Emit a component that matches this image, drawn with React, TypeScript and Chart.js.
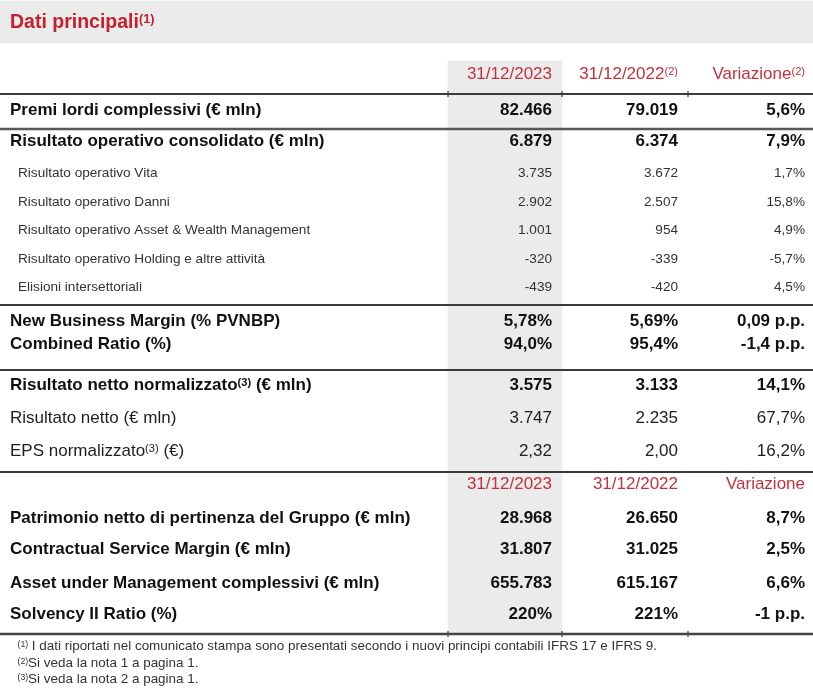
import React, { useEffect, useRef } from "react";
import { Chart, registerables } from "chart.js";

Chart.register(...registerables);

// ---------------- data ----------------
const TITLE = "Dati principali^(1)^";
const HEADER_TOP = ["31/12/2023", "31/12/2022^(2)^", "Variazione^(2)^"];
const HEADER_BOTTOM = ["31/12/2023", "31/12/2022", "Variazione"];

const ROW_LABELS = [
  "Premi lordi complessivi (€ mln)",
  "Risultato operativo consolidato (€ mln)",
  "Risultato operativo Vita",
  "Risultato operativo Danni",
  "Risultato operativo Asset & Wealth Management",
  "Risultato operativo Holding e altre attività",
  "Elisioni intersettoriali",
  "New Business Margin (% PVNBP)",
  "Combined Ratio (%)",
  "Risultato netto normalizzato^(3)^ (€ mln)",
  "Risultato netto (€ mln)",
  "EPS normalizzato^(3)^ (€)",
  "Patrimonio netto di pertinenza del Gruppo (€ mln)",
  "Contractual Service Margin (€ mln)",
  "Asset under Management complessivi (€ mln)",
  "Solvency II Ratio (%)",
];

const VALUES_2023 = [
  "82.466", "6.879", "3.735", "2.902", "1.001", "-320", "-439",
  "5,78%", "94,0%", "3.575", "3.747", "2,32",
  "28.968", "31.807", "655.783", "220%",
];

const VALUES_2022 = [
  "79.019", "6.374", "3.672", "2.507", "954", "-339", "-420",
  "5,69%", "95,4%", "3.133", "2.235", "2,00",
  "26.650", "31.025", "615.167", "221%",
];

const VARIAZIONE = [
  "5,6%", "7,9%", "1,7%", "15,8%", "4,9%", "-5,7%", "4,5%",
  "0,09 p.p.", "-1,4 p.p.", "14,1%", "67,7%", "16,2%",
  "8,7%", "2,5%", "6,6%", "-1 p.p.",
];

const FOOTNOTES = [
  "^(1)^ I dati riportati nel comunicato stampa sono presentati secondo i nuovi principi contabili IFRS 17 e IFRS 9.",
  "^(2)^Si veda la nota 1 a pagina 1.",
  "^(3)^Si veda la nota 2 a pagina 1.",
];

// ---------------- layout & styles ----------------
const W = 813;
const H = 689;
const ROW_Y = [108.5, 140, 172, 201, 229, 258, 286, 320, 343, 384, 417, 450, 517, 548, 582, 613];
const ROW_STYLE = [
  "bold", "bold", "sub", "sub", "sub", "sub", "sub",
  "bold", "bold", "bold", "reg", "reg",
  "bold", "bold", "bold", "bold",
];
const HEADER_Y = [73, 483];
const COL_RIGHT = [552, 678, 805];
const TITLE_POS = { x: 10, y: 21 };
const FOOT_X = 17.5;
const FOOT_Y = [645, 662, 678];
const RULE_Y = [94, 129, 305, 370, 472, 634];
const RULE_W = [2, 2.6, 2, 2, 2, 2.4];
const RULE_C = ["#3a3a3a", "#585858", "#3a3a3a", "#3a3a3a", "#3a3a3a", "#444444"];
const TICK_RULES = [94, 634];
const COL_EDGES = [448, 562, 688];
const HEADER_BAND = { x: W / 2, width: W, y0: 1, y1: 43 };
const HIGHLIGHT_COL = { x: 505, width: 114, y0: 61, y1: 634 };
const FILL = "#ebebeb";
const FONT = '"Liberation Sans", Arial, Helvetica, sans-serif';

type TextStyle = { size: number; weight: string; color: string };
const STYLES: Record<string, TextStyle> = {
  title: { size: 19.5, weight: "bold", color: "#c4202e" },
  header: { size: 17, weight: "normal", color: "#c0333d" },
  bold: { size: 17, weight: "bold", color: "#111111" },
  reg: { size: 17, weight: "normal", color: "#1e1e1e" },
  sub: { size: 13.6, weight: "normal", color: "#333333" },
  foot: { size: 13.45, weight: "normal", color: "#333333" },
};
const LABEL_X: Record<string, number> = { bold: 10, reg: 10, sub: 18 };

function drawRich(
  ctx: CanvasRenderingContext2D,
  text: string,
  x: number,
  y: number,
  align: string,
  st: TextStyle
) {
  const runs = text
    .split("^")
    .map((t, i) => ({ t, sup: i % 2 === 1 }))
    .filter((r) => r.t.length > 0);
  const mainFont = `${st.weight} ${st.size}px ${FONT}`;
  const supSize = Math.round(st.size * 0.65 * 10) / 10;
  const supFont = `${st.weight} ${supSize}px ${FONT}`;
  ctx.save();
  ctx.font = mainFont;
  const capH = ctx.measureText("H").actualBoundingBoxAscent;
  ctx.font = supFont;
  const parenTop = ctx.measureText("(").actualBoundingBoxAscent;
  const base = y + capH / 2;
  const supBase = base - capH + parenTop - 0.5;
  let total = 0;
  const widths = runs.map((r) => {
    ctx.font = r.sup ? supFont : mainFont;
    const w = ctx.measureText(r.t).width;
    total += w;
    return w;
  });
  let cx = align === "right" ? x - total : x;
  ctx.fillStyle = st.color;
  ctx.textAlign = "left";
  ctx.textBaseline = "alphabetic";
  runs.forEach((r, i) => {
    ctx.font = r.sup ? supFont : mainFont;
    ctx.fillText(r.t, cx, r.sup ? supBase : base);
    cx += widths[i];
  });
  ctx.restore();
}

const tableTextPlugin = {
  id: "tableText",
  afterDatasetsDraw(chart: any) {
    const ctx = chart.ctx as CanvasRenderingContext2D;
    chart.data.datasets.forEach((ds: any, i: number) => {
      if (!ds.cellText) return;
      const meta = chart.getDatasetMeta(i);
      meta.data.forEach((el: any, j: number) => {
        drawRich(ctx, ds.cellText[j], el.x, el.y, ds.cellAlign, ds.cellStyle[j]);
      });
    });
  },
};

function textDataset(points: { x: number; y: number }[], texts: string[], styles: TextStyle[], align: string) {
  return {
    type: "scatter",
    data: points,
    pointRadius: 0,
    pointHoverRadius: 0,
    showLine: false,
    order: 0,
    cellText: texts,
    cellStyle: styles,
    cellAlign: align,
  };
}

function buildDatasets() {
  const ds: any[] = [];
  // background fills (floating bars)
  ds.push({
    type: "bar",
    data: [{ x: HEADER_BAND.x, y: [HEADER_BAND.y0, HEADER_BAND.y1] }],
    backgroundColor: FILL,
    barThickness: HEADER_BAND.width,
    grouped: false,
    borderWidth: 0,
    order: 5,
  });
  ds.push({
    type: "bar",
    data: [{ x: HIGHLIGHT_COL.x, y: [HIGHLIGHT_COL.y0, HIGHLIGHT_COL.y1] }],
    backgroundColor: FILL,
    barThickness: HIGHLIGHT_COL.width,
    grouped: false,
    borderWidth: 0,
    order: 5,
  });
  // horizontal rules
  RULE_Y.forEach((y, k) => {
    ds.push({
      type: "line",
      data: [{ x: 0, y }, { x: W, y }],
      borderColor: RULE_C[k],
      borderWidth: RULE_W[k],
      pointRadius: 0,
      pointHoverRadius: 0,
      order: 2,
    });
  });
  // small column ticks on rules
  TICK_RULES.forEach((y) => {
    COL_EDGES.forEach((x) => {
      ds.push({
        type: "line",
        data: [{ x, y: y - 3 }, { x, y: y + 3 }],
        borderColor: "#3a3a3a",
        borderWidth: 1.2,
        pointRadius: 0,
        pointHoverRadius: 0,
        order: 2,
      });
    });
  });
  // title
  ds.push(textDataset([{ x: TITLE_POS.x, y: TITLE_POS.y }], [TITLE], [STYLES.title], "left"));
  // headers
  ds.push(
    textDataset(COL_RIGHT.map((x) => ({ x, y: HEADER_Y[0] })), HEADER_TOP, HEADER_TOP.map(() => STYLES.header), "right")
  );
  ds.push(
    textDataset(COL_RIGHT.map((x) => ({ x, y: HEADER_Y[1] })), HEADER_BOTTOM, HEADER_BOTTOM.map(() => STYLES.header), "right")
  );
  // labels
  ds.push(
    textDataset(
      ROW_LABELS.map((_, i) => ({ x: LABEL_X[ROW_STYLE[i]], y: ROW_Y[i] })),
      ROW_LABELS,
      ROW_STYLE.map((s) => STYLES[s]),
      "left"
    )
  );
  // value columns
  [VALUES_2023, VALUES_2022, VARIAZIONE].forEach((vals, c) => {
    ds.push(
      textDataset(
        vals.map((_, i) => ({ x: COL_RIGHT[c], y: ROW_Y[i] })),
        vals,
        ROW_STYLE.map((s) => STYLES[s]),
        "right"
      )
    );
  });
  // footnotes
  ds.push(
    textDataset(
      FOOTNOTES.map((_, i) => ({ x: FOOT_X, y: FOOT_Y[i] })),
      FOOTNOTES,
      FOOTNOTES.map(() => STYLES.foot),
      "left"
    )
  );
  return ds;
}

export default function App() {
  const ref = useRef<HTMLCanvasElement>(null);
  useEffect(() => {
    document.body.style.margin = "0";
    const chart = new Chart(ref.current as HTMLCanvasElement, {
      type: "scatter",
      data: { datasets: buildDatasets() as any },
      options: {
        animation: false,
        responsive: false,
        devicePixelRatio: 1,
        events: [],
        layout: { padding: 0 },
        plugins: { legend: { display: false }, tooltip: { enabled: false } },
        scales: {
          x: { type: "linear", min: 0, max: W, offset: false, grid: { offset: false }, display: false },
          y: { type: "linear", min: 0, max: H, reverse: true, offset: false, display: false },
        },
      },
      plugins: [tableTextPlugin as any],
    } as any);
    return () => chart.destroy();
  }, []);
  return (
    <div style={{ width: W, height: H, background: "#ffffff" }}>
      <canvas ref={ref} width={W} height={H} style={{ display: "block" }} />
    </div>
  );
}
